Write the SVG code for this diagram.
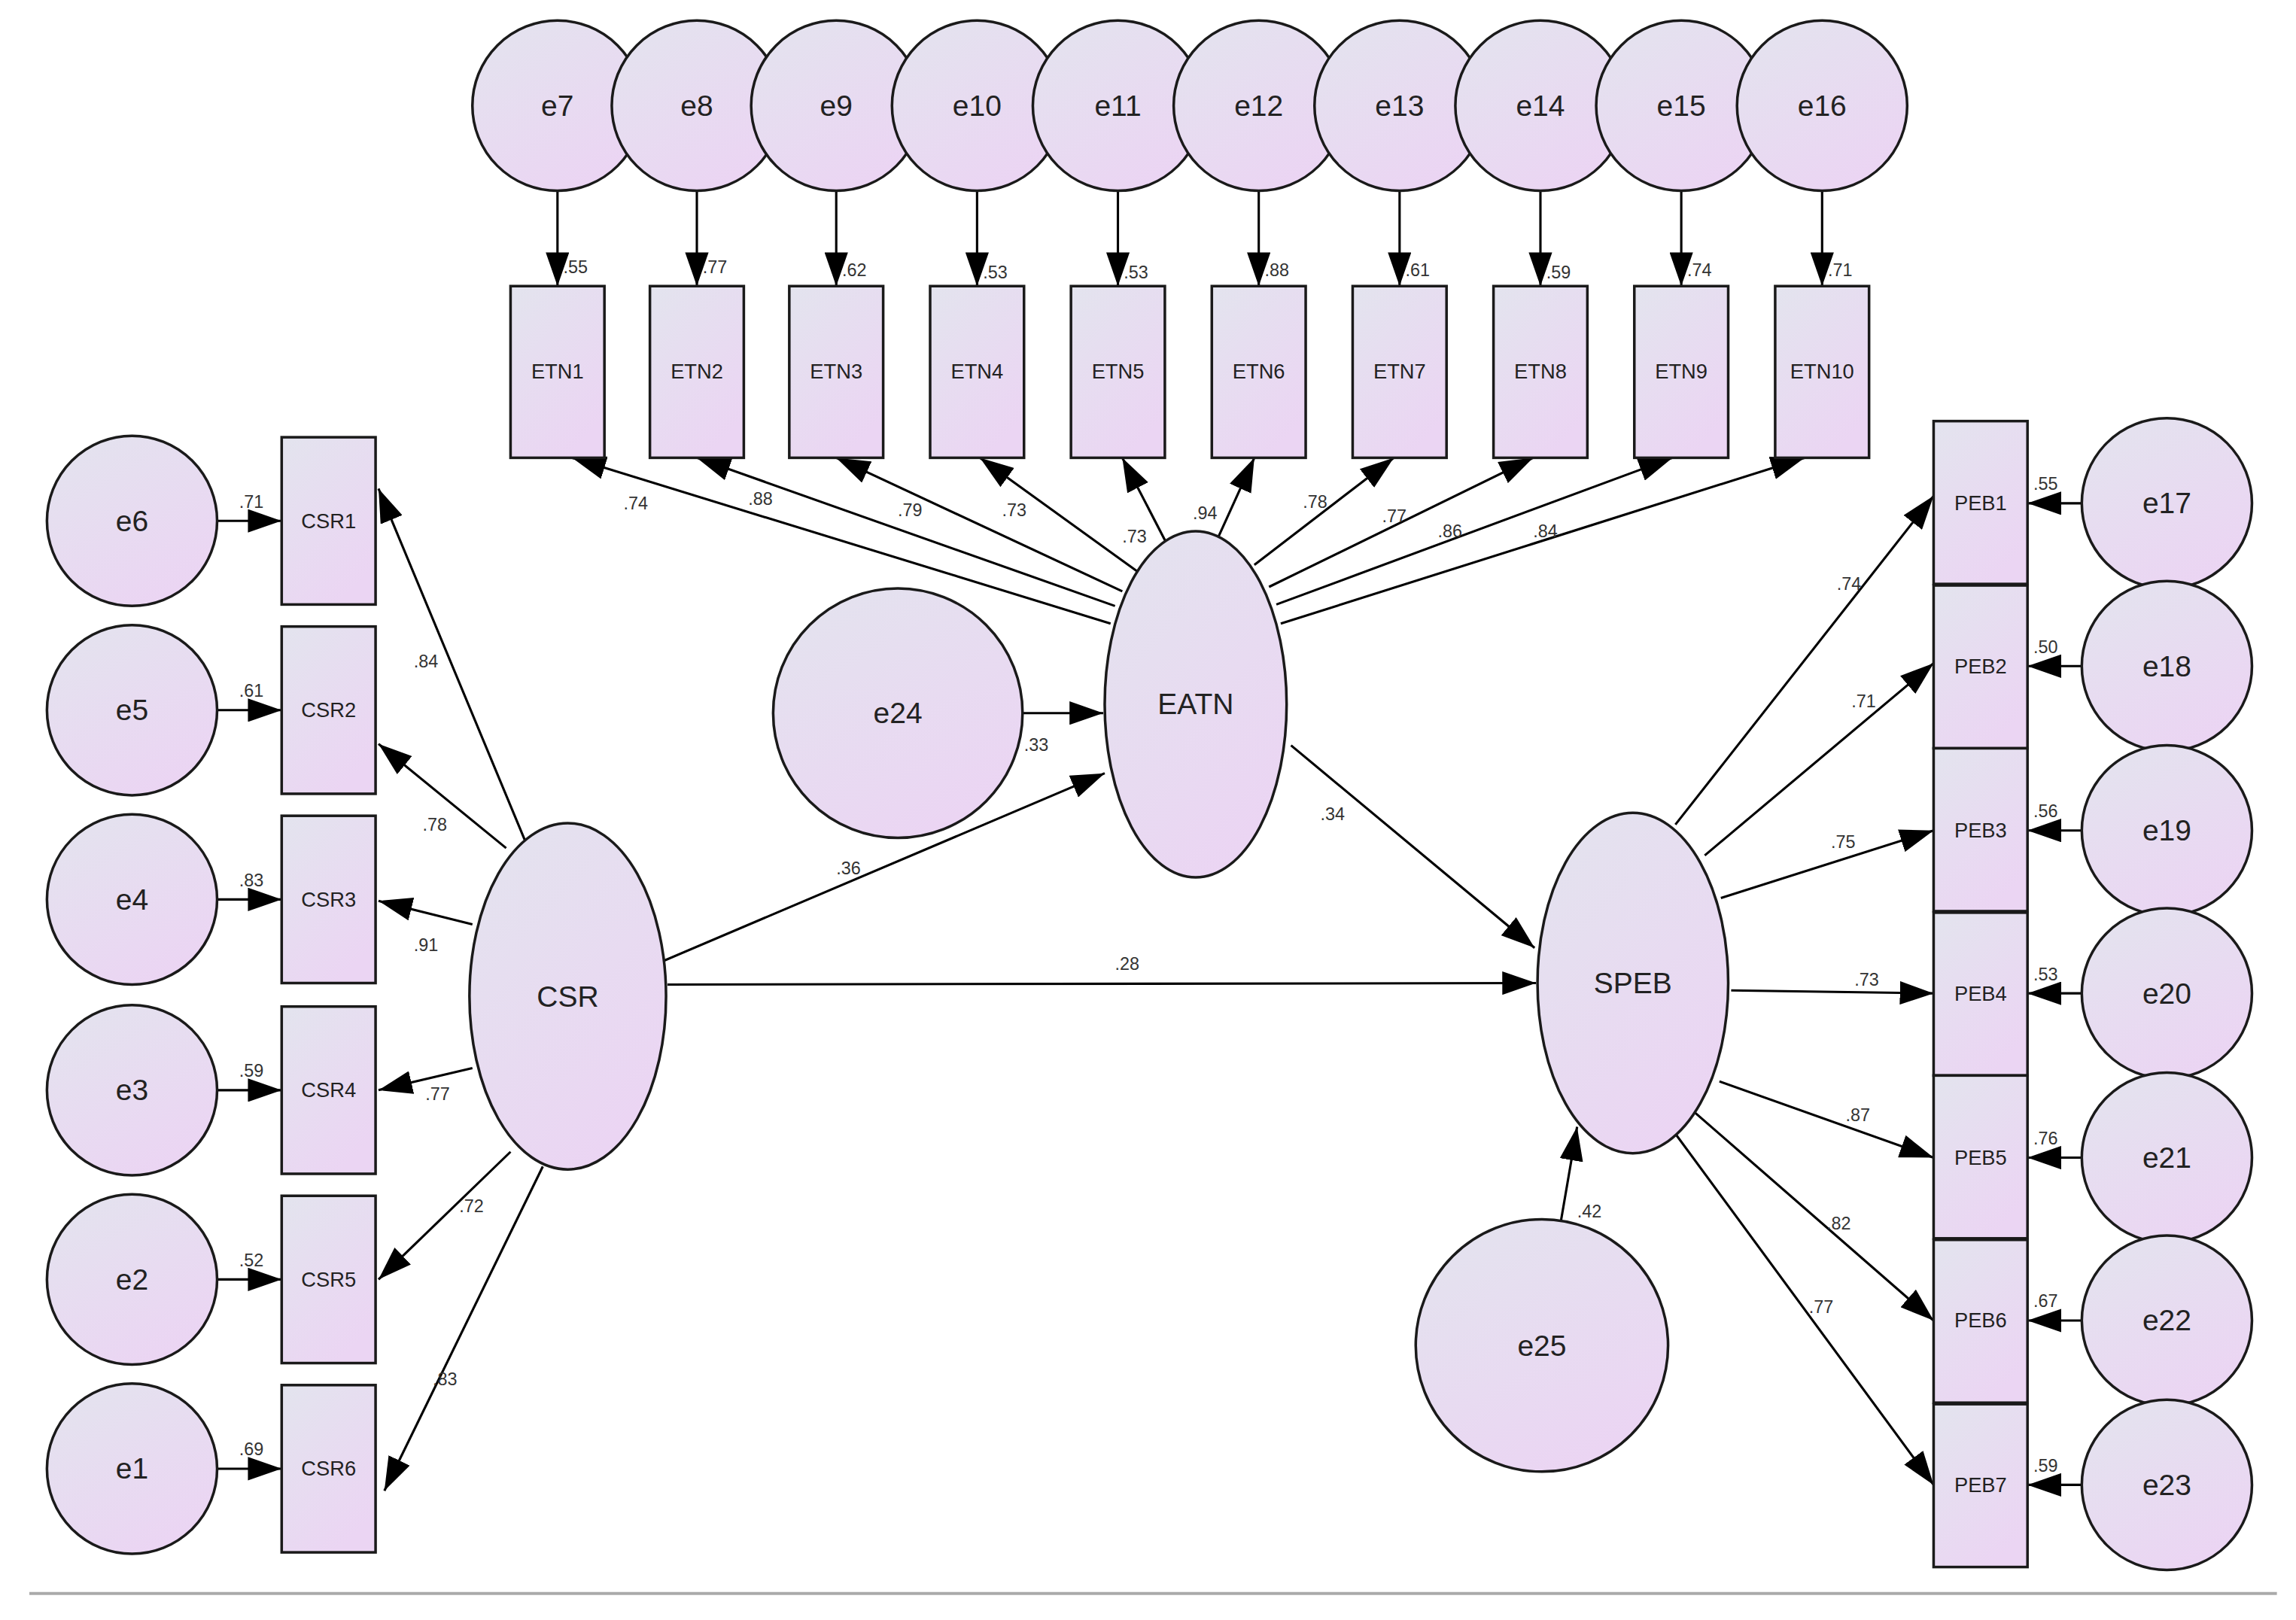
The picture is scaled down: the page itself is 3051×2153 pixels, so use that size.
<svg xmlns="http://www.w3.org/2000/svg" width="3051" height="2153" viewBox="0 0 3051 2153">
<defs>
<linearGradient id="g" x1="0" y1="0" x2="0.6" y2="1"><stop offset="0" stop-color="#e3e4ee"/><stop offset="1" stop-color="#ebd5f3"/></linearGradient>
<marker id="a" markerUnits="userSpaceOnUse" markerWidth="23" markerHeight="16" refX="23" refY="8" orient="auto"><path d="M0,0 L23,8 L0,16 z" fill="#000"/></marker>
<style>
.n{fill:url(#g);stroke:#1a1a1a;stroke-width:1.8}
.c line{stroke:#000;stroke-width:1.6;marker-end:url(#a)}
.t{font-family:"Liberation Sans",Arial,sans-serif;fill:#222;text-anchor:middle;dominant-baseline:central}
.L{font-size:20px}.B{font-size:14px}.v{font-family:"Liberation Sans",Arial,sans-serif;font-size:12px;fill:#333}
</style>
</defs>
<rect width="3051" height="2153" fill="#fff"/>
<g transform="scale(1.9495 1.95)">
<line x1="20" y1="1086" x2="1552" y2="1086" stroke="#aaa" stroke-width="2"/>
<g id="connectors" class="c">
<line x1="380" y1="130" x2="380" y2="195"/><line x1="475" y1="130" x2="475" y2="195"/><line x1="570" y1="130" x2="570" y2="195"/><line x1="666" y1="130" x2="666" y2="195"/><line x1="762" y1="130" x2="762" y2="195"/><line x1="858" y1="130" x2="858" y2="195"/><line x1="954" y1="130" x2="954" y2="195"/><line x1="1050" y1="130" x2="1050" y2="195"/><line x1="1146" y1="130" x2="1146" y2="195"/><line x1="1242" y1="130" x2="1242" y2="195"/>
<line x1="757" y1="425" x2="390" y2="312"/><line x1="760" y1="413" x2="475" y2="312"/><line x1="765" y1="403" x2="570" y2="312"/><line x1="776" y1="390" x2="668" y2="312"/><line x1="795" y1="370" x2="765" y2="312"/><line x1="830" y1="367" x2="855" y2="312"/><line x1="855" y1="385" x2="950" y2="312"/><line x1="865" y1="400" x2="1045" y2="312"/><line x1="870" y1="412" x2="1140" y2="312"/><line x1="873" y1="425" x2="1230" y2="312"/>
<line x1="696" y1="486" x2="752" y2="486"/>
<line x1="148" y1="355" x2="192" y2="355"/><line x1="148" y1="484" x2="192" y2="484"/><line x1="148" y1="613" x2="192" y2="613"/><line x1="148" y1="743" x2="192" y2="743"/><line x1="148" y1="872" x2="192" y2="872"/><line x1="148" y1="1001" x2="192" y2="1001"/>
<line x1="360" y1="578" x2="258" y2="333"/><line x1="345" y1="578" x2="258" y2="507"/><line x1="322" y1="630" x2="258" y2="614"/><line x1="322" y1="728" x2="258" y2="743"/><line x1="348" y1="785" x2="258" y2="872"/><line x1="370" y1="795" x2="262" y2="1016"/>
<line x1="452" y1="655" x2="753" y2="527"/>
<line x1="455" y1="671" x2="1047" y2="670"/>
<line x1="880" y1="508" x2="1046" y2="646"/>
<line x1="1064" y1="832" x2="1075" y2="768"/>
<line x1="1142" y1="562" x2="1318" y2="338"/><line x1="1162" y1="583" x2="1318" y2="452"/><line x1="1173" y1="612" x2="1318" y2="566"/><line x1="1180" y1="675" x2="1318" y2="677"/><line x1="1172" y1="737" x2="1318" y2="789"/><line x1="1155" y1="758" x2="1318" y2="900"/><line x1="1140" y1="770" x2="1318" y2="1012"/>
<line x1="1419" y1="343" x2="1382" y2="343"/><line x1="1419" y1="454" x2="1382" y2="454"/><line x1="1419" y1="566" x2="1382" y2="566"/><line x1="1419" y1="677" x2="1382" y2="677"/><line x1="1419" y1="789" x2="1382" y2="789"/><line x1="1419" y1="900" x2="1382" y2="900"/><line x1="1419" y1="1012" x2="1382" y2="1012"/>
</g>
<g class="v">
<text x="384" y="186">.55</text><text x="479" y="186">.77</text><text x="574" y="188">.62</text><text x="670" y="190">.53</text><text x="766" y="190">.53</text><text x="862" y="188">.88</text><text x="958" y="188">.61</text><text x="1054" y="190">.59</text><text x="1150" y="188">.74</text><text x="1246" y="188">.71</text>
<text x="425" y="347">.74</text><text x="510" y="344">.88</text><text x="612" y="352">.79</text><text x="683" y="352">.73</text><text x="765" y="370">.73</text><text x="813" y="354">.94</text><text x="888" y="346">.78</text><text x="942" y="356">.77</text><text x="980" y="366">.86</text><text x="1045" y="366">.84</text>
<text x="698" y="512">.33</text>
<text x="163" y="346">.71</text><text x="163" y="475">.61</text><text x="163" y="604">.83</text><text x="163" y="734">.59</text><text x="163" y="863">.52</text><text x="163" y="992">.69</text>
<text x="282" y="455">.84</text><text x="288" y="566">.78</text><text x="282" y="648">.91</text><text x="290" y="750">.77</text><text x="313" y="826">.72</text><text x="295" y="944">.83</text>
<text x="570" y="596">.36</text><text x="760" y="661">.28</text><text x="900" y="559">.34</text><text x="1075" y="830">.42</text>
<text x="1252" y="402">.74</text><text x="1262" y="482">.71</text><text x="1248" y="578">.75</text><text x="1264" y="672">.73</text><text x="1258" y="764">.87</text><text x="1245" y="838">.82</text><text x="1233" y="895">.77</text>
<text x="1386" y="334">.55</text><text x="1386" y="445">.50</text><text x="1386" y="557">.56</text><text x="1386" y="668">.53</text><text x="1386" y="780">.76</text><text x="1386" y="891">.67</text><text x="1386" y="1003">.59</text>
</g>
<g id="e7"><circle class="n" cx="380" cy="72" r="58"/><text class="t L" x="380" y="72">e7</text></g>
<g id="e8"><circle class="n" cx="475" cy="72" r="58"/><text class="t L" x="475" y="72">e8</text></g>
<g id="e9"><circle class="n" cx="570" cy="72" r="58"/><text class="t L" x="570" y="72">e9</text></g>
<g id="e10"><circle class="n" cx="666" cy="72" r="58"/><text class="t L" x="666" y="72">e10</text></g>
<g id="e11"><circle class="n" cx="762" cy="72" r="58"/><text class="t L" x="762" y="72">e11</text></g>
<g id="e12"><circle class="n" cx="858" cy="72" r="58"/><text class="t L" x="858" y="72">e12</text></g>
<g id="e13"><circle class="n" cx="954" cy="72" r="58"/><text class="t L" x="954" y="72">e13</text></g>
<g id="e14"><circle class="n" cx="1050" cy="72" r="58"/><text class="t L" x="1050" y="72">e14</text></g>
<g id="e15"><circle class="n" cx="1146" cy="72" r="58"/><text class="t L" x="1146" y="72">e15</text></g>
<g id="e16"><circle class="n" cx="1242" cy="72" r="58"/><text class="t L" x="1242" y="72">e16</text></g>
<g id="ETN1"><rect class="n" x="348" y="195" width="64" height="117"/><text class="t B" x="380" y="253">ETN1</text></g>
<g id="ETN2"><rect class="n" x="443" y="195" width="64" height="117"/><text class="t B" x="475" y="253">ETN2</text></g>
<g id="ETN3"><rect class="n" x="538" y="195" width="64" height="117"/><text class="t B" x="570" y="253">ETN3</text></g>
<g id="ETN4"><rect class="n" x="634" y="195" width="64" height="117"/><text class="t B" x="666" y="253">ETN4</text></g>
<g id="ETN5"><rect class="n" x="730" y="195" width="64" height="117"/><text class="t B" x="762" y="253">ETN5</text></g>
<g id="ETN6"><rect class="n" x="826" y="195" width="64" height="117"/><text class="t B" x="858" y="253">ETN6</text></g>
<g id="ETN7"><rect class="n" x="922" y="195" width="64" height="117"/><text class="t B" x="954" y="253">ETN7</text></g>
<g id="ETN8"><rect class="n" x="1018" y="195" width="64" height="117"/><text class="t B" x="1050" y="253">ETN8</text></g>
<g id="ETN9"><rect class="n" x="1114" y="195" width="64" height="117"/><text class="t B" x="1146" y="253">ETN9</text></g>
<g id="ETN10"><rect class="n" x="1210" y="195" width="64" height="117"/><text class="t B" x="1242" y="253">ETN10</text></g>
<g id="EATN"><ellipse class="n" cx="815" cy="480" rx="62" ry="118"/><text class="t L" x="815" y="480">EATN</text></g>
<g id="e24"><circle class="n" cx="612" cy="486" r="85"/><text class="t L" x="612" y="486">e24</text></g>
<g id="CSR"><ellipse class="n" cx="387" cy="679" rx="67" ry="118"/><text class="t L" x="387" y="679">CSR</text></g>
<g id="CSR1"><rect class="n" x="192" y="298" width="64" height="114"/><text class="t B" x="224" y="355">CSR1</text></g>
<g id="CSR2"><rect class="n" x="192" y="427" width="64" height="114"/><text class="t B" x="224" y="484">CSR2</text></g>
<g id="CSR3"><rect class="n" x="192" y="556" width="64" height="114"/><text class="t B" x="224" y="613">CSR3</text></g>
<g id="CSR4"><rect class="n" x="192" y="686" width="64" height="114"/><text class="t B" x="224" y="743">CSR4</text></g>
<g id="CSR5"><rect class="n" x="192" y="815" width="64" height="114"/><text class="t B" x="224" y="872">CSR5</text></g>
<g id="CSR6"><rect class="n" x="192" y="944" width="64" height="114"/><text class="t B" x="224" y="1001">CSR6</text></g>
<g id="e6"><circle class="n" cx="90" cy="355" r="58"/><text class="t L" x="90" y="355">e6</text></g>
<g id="e5"><circle class="n" cx="90" cy="484" r="58"/><text class="t L" x="90" y="484">e5</text></g>
<g id="e4"><circle class="n" cx="90" cy="613" r="58"/><text class="t L" x="90" y="613">e4</text></g>
<g id="e3"><circle class="n" cx="90" cy="743" r="58"/><text class="t L" x="90" y="743">e3</text></g>
<g id="e2"><circle class="n" cx="90" cy="872" r="58"/><text class="t L" x="90" y="872">e2</text></g>
<g id="e1"><circle class="n" cx="90" cy="1001" r="58"/><text class="t L" x="90" y="1001">e1</text></g>
<g id="SPEB"><ellipse class="n" cx="1113" cy="670" rx="65" ry="116"/><text class="t L" x="1113" y="670">SPEB</text></g>
<g id="e25"><circle class="n" cx="1051" cy="917" r="86"/><text class="t L" x="1051" y="917">e25</text></g>
<g id="PEB1"><rect class="n" x="1318" y="287" width="64" height="111"/><text class="t B" x="1350" y="343">PEB1</text></g>
<g id="PEB2"><rect class="n" x="1318" y="399" width="64" height="111"/><text class="t B" x="1350" y="454">PEB2</text></g>
<g id="PEB3"><rect class="n" x="1318" y="510" width="64" height="111"/><text class="t B" x="1350" y="566">PEB3</text></g>
<g id="PEB4"><rect class="n" x="1318" y="622" width="64" height="111"/><text class="t B" x="1350" y="677">PEB4</text></g>
<g id="PEB5"><rect class="n" x="1318" y="733" width="64" height="111"/><text class="t B" x="1350" y="789">PEB5</text></g>
<g id="PEB6"><rect class="n" x="1318" y="845" width="64" height="111"/><text class="t B" x="1350" y="900">PEB6</text></g>
<g id="PEB7"><rect class="n" x="1318" y="957" width="64" height="111"/><text class="t B" x="1350" y="1012">PEB7</text></g>
<g id="e17"><circle class="n" cx="1477" cy="343" r="58"/><text class="t L" x="1477" y="343">e17</text></g>
<g id="e18"><circle class="n" cx="1477" cy="454" r="58"/><text class="t L" x="1477" y="454">e18</text></g>
<g id="e19"><circle class="n" cx="1477" cy="566" r="58"/><text class="t L" x="1477" y="566">e19</text></g>
<g id="e20"><circle class="n" cx="1477" cy="677" r="58"/><text class="t L" x="1477" y="677">e20</text></g>
<g id="e21"><circle class="n" cx="1477" cy="789" r="58"/><text class="t L" x="1477" y="789">e21</text></g>
<g id="e22"><circle class="n" cx="1477" cy="900" r="58"/><text class="t L" x="1477" y="900">e22</text></g>
<g id="e23"><circle class="n" cx="1477" cy="1012" r="58"/><text class="t L" x="1477" y="1012">e23</text></g>
</g>
</svg>
